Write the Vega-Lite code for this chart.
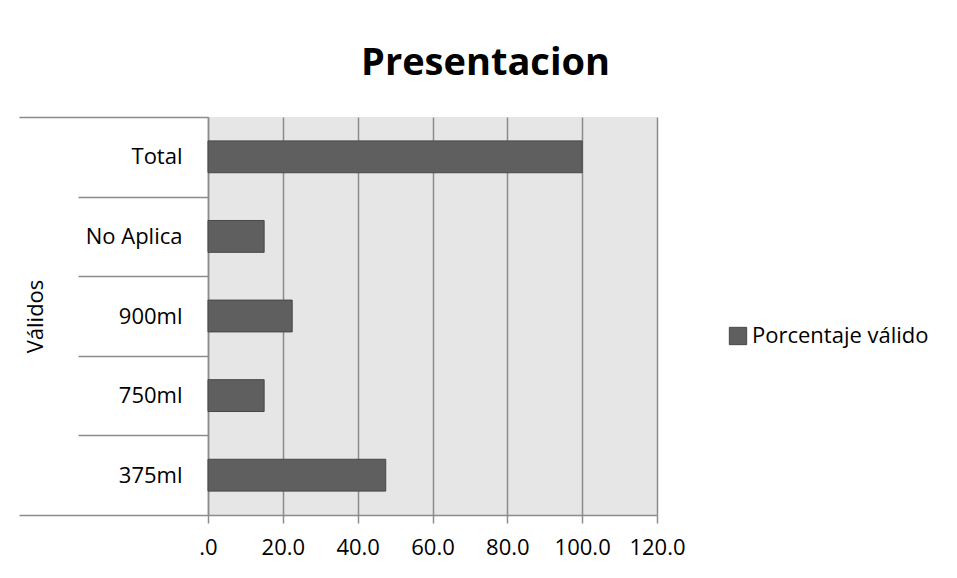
{
  "$schema": "https://vega.github.io/schema/vega-lite/v6.json",
  "autosize": {"type": "none"},
  "padding": {"left": 208, "top": 117, "right": 300, "bottom": 63},
  "width": 449,
  "height": 398,
  "background": "white",
  "title": {
    "text": "Presentacion",
    "font": "Open Sans",
    "fontSize": 38,
    "fontWeight": "bold",
    "color": "black",
    "anchor": "middle",
    "baseline": "alphabetic",
    "offset": 44,
    "dx": 53,
    "dy": 51
  },
  "data": {
    "values": [
      {"categoria": "Total", "serie": "Porcentaje válido", "porcentaje": 100},
      {"categoria": "No Aplica", "serie": "Porcentaje válido", "porcentaje": 15},
      {"categoria": "900ml", "serie": "Porcentaje válido", "porcentaje": 22.5},
      {"categoria": "750ml", "serie": "Porcentaje válido", "porcentaje": 15},
      {"categoria": "375ml", "serie": "Porcentaje válido", "porcentaje": 47.5}
    ]
  },
  "mark": {
    "type": "bar",
    "height": {"band": 0.4},
    "stroke": "#474747",
    "strokeWidth": 1
  },
  "encoding": {
    "y": {
      "field": "categoria",
      "type": "nominal",
      "sort": null,
      "scale": {"paddingInner": 0, "paddingOuter": 0},
      "axis": {
        "title": "Válidos",
        "titleFont": "Open Sans",
        "titleFontSize": 22,
        "titleFontWeight": "normal",
        "titleColor": "black",
        "titleAngle": 270,
        "titleAlign": "center",
        "titleBaseline": "middle",
        "titleX": -173,
        "titleY": 199,
        "labelFont": "Open Sans",
        "labelFontSize": 22,
        "labelColor": "black",
        "labelAlign": "right",
        "labelBaseline": "middle",
        "tickBand": "extent",
        "tickColor": "#8c8c8c",
        "tickWidth": 1.5,
        "tickSize": {"condition": {"test": "datum.extra || datum.value === '375ml'", "value": 189}, "value": 130},
        "labelPadding": {"condition": {"test": "datum.extra || datum.value === '375ml'", "value": -163}, "value": -104},
        "domainColor": "#8c8c8c",
        "domainWidth": 1.5,
        "grid": false
      }
    },
    "x": {
      "field": "porcentaje",
      "type": "quantitative",
      "scale": {"domain": [0, 120], "nice": false},
      "axis": {
        "title": null,
        "values": [0, 20, 40, 60, 80, 100, 120],
        "labelExpr": "datum.value === 0 ? '.0' : format(datum.value, '.1f')",
        "labelFont": "Open Sans",
        "labelFontSize": 22,
        "labelColor": "black",
        "labelPadding": 14,
        "labelFlush": false,
        "tickSize": 8,
        "tickColor": "#8c8c8c",
        "tickWidth": 1.5,
        "domainColor": "#8c8c8c",
        "domainWidth": 1.5,
        "grid": true,
        "gridColor": "#8c8c8c",
        "gridWidth": 1.5
      }
    },
    "color": {
      "field": "serie",
      "type": "nominal",
      "scale": {"range": ["#5f5f5f"]},
      "legend": {
        "title": null,
        "orient": "none",
        "legendX": 519,
        "legendY": 208,
        "symbolType": "square",
        "symbolSize": 300,
        "symbolStrokeColor": "#474747",
        "symbolStrokeWidth": 1,
        "symbolFillColor": "#5f5f5f",
        "labelFont": "Open Sans",
        "labelFontSize": 22,
        "labelColor": "black",
        "labelOffset": 3,
        "labelLimit": 300
      }
    }
  },
  "config": {
    "view": {"fill": "#e6e6e6", "stroke": null}
  }
}
